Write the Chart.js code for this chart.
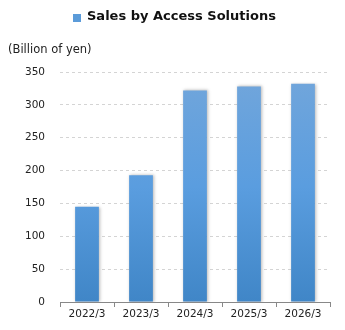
<!DOCTYPE html>
<html>
<head>
<meta charset="utf-8">
<script src="https://cdn.jsdelivr.net/npm/chart.js@4/dist/chart.umd.min.js"></script>
<style>
html,body{margin:0;padding:0;background:#fff;}
#wrap{width:345px;height:330px;position:relative;}
</style>
</head>
<body>
<div id="wrap"><canvas id="c" width="345" height="330"></canvas></div>
<script>
const categories = ["2022/3", "2023/3", "2024/3", "2025/3", "2026/3"];
const salesValues = [145, 193, 322, 328, 332];
const seriesName = "Sales by Access Solutions";
const unitLabel = "(Billion of yen)";
const yTicks = [0, 50, 100, 150, 200, 250, 300, 350];

const FONT = "'DejaVu Sans', Verdana, sans-serif";

const headerPlugin = {
  id: 'header',
  afterDraw(chart) {
    const ctx = chart.ctx;
    ctx.save();
    ctx.font = "bold 13px " + FONT;
    ctx.textBaseline = 'middle';
    const tx = 87;
    ctx.fillStyle = '#5b9bd9';
    ctx.fillRect(73, 14, 8, 8);
    ctx.fillStyle = '#111';
    ctx.fillText(seriesName, tx, 17);
    ctx.font = "11.5px " + FONT;
    ctx.fillStyle = '#222';
    ctx.textAlign = 'left';
    ctx.fillText(unitLabel, 8, 50);
    ctx.restore();
  }
};

const shadowPlugin = {
  id: 'barShadow',
  beforeDatasetsDraw(chart) {
    const ctx = chart.ctx;
    ctx.save();
    ctx.shadowColor = 'rgba(0,0,0,0.28)';
    ctx.shadowBlur = 3;
    ctx.shadowOffsetX = 1;
    ctx.shadowOffsetY = 0;
  },
  afterDatasetsDraw(chart) {
    chart.ctx.restore();
  }
};

function barGradient(context) {
  const chart = context.chart;
  const area = chart.chartArea;
  if (!area) return '#5a9bdc';
  const g = chart.ctx.createLinearGradient(0, area.top, 0, area.bottom);
  g.addColorStop(0, '#72a6db');
  g.addColorStop(0.5, '#5a9ddf');
  g.addColorStop(1, '#4086c7');
  return g;
}

new Chart(document.getElementById('c'), {
  type: 'bar',
  data: {
    labels: categories,
    datasets: [{
      label: seriesName,
      data: salesValues,
      backgroundColor: barGradient,
      borderWidth: 0,
      barPercentage: 0.44,
      categoryPercentage: 1.0
    }]
  },
  options: {
    responsive: false,
    animation: false,
    layout: { padding: { top: 72, right: 15, bottom: 0, left: 0 } },
    plugins: { legend: { display: false }, title: { display: false }, tooltip: { enabled: false } },
    scales: {
      x: {
        offset: true,
        grid: { display: true, drawOnChartArea: false, drawTicks: true, tickLength: 5, tickColor: '#888', offset: true },
        border: { display: true, color: '#888', width: 1 },
        ticks: { color: '#222', font: { family: FONT, size: 10.5 }, padding: 1, maxRotation: 0 },
        afterFit(scale) { scale.height = 28; }
      },
      y: {
        min: 0, max: 350,
        afterBuildTicks(scale) { scale.ticks = yTicks.map(v => ({ value: v })); },
        grid: { color: '#d4d4d4', drawTicks: false, lineWidth: 1 },
        border: { display: false, dash: [3, 3] },
        ticks: { color: '#222', font: { family: FONT, size: 10.5 }, padding: 15 },
        afterFit(scale) { scale.width = 60; }
      }
    }
  },
  plugins: [shadowPlugin, headerPlugin]
});
</script>
</body>
</html>
